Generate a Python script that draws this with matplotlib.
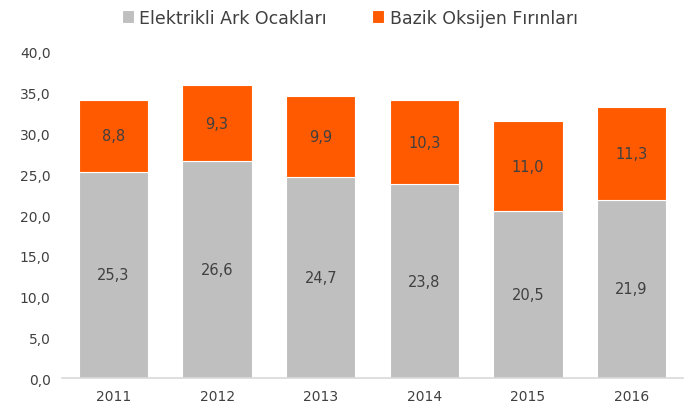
import matplotlib.pyplot as plt
import numpy as np

# ── Data ────────────────────────────────────────────────
years = ["2011", "2012", "2013", "2014", "2015", "2016"]
ark = [25.3, 26.6, 24.7, 23.8, 20.5, 21.9]
oksijen = [8.8, 9.3, 9.9, 10.3, 11.0, 11.3]
series_names = ["Elektrikli Ark Ocakları", "Bazik Oksijen Fırınları"]

GREY = "#BFBFBF"
ORANGE = "#FF5A00"
TEXT = "#404040"

def fmt(v):
    return f"{v:.1f}".replace(".", ",")

fig = plt.figure(figsize=(6.86, 4.14), dpi=100)
ax = fig.add_axes([0.090, 0.0845, 0.906, 0.7875])

x = np.arange(len(years))
b1 = ax.bar(x, ark, width=0.67, color=GREY, edgecolor="white", linewidth=0.8,
            label=series_names[0])
b2 = ax.bar(x, oksijen, width=0.67, bottom=ark, color=ORANGE, edgecolor="white",
            linewidth=0.8, label=series_names[1])

for i in range(len(years)):
    ax.text(x[i], ark[i] / 2, fmt(ark[i]), ha="center", va="center",
            fontsize=10.5, color=TEXT)
    ax.text(x[i], ark[i] + oksijen[i] / 2, fmt(oksijen[i]), ha="center",
            va="center", fontsize=10.5, color=TEXT)

ax.set_xlim(-0.5, len(years) - 0.5)
ax.set_ylim(0, 40)
ax.set_yticks(np.arange(0, 41, 5))
ax.set_yticklabels([fmt(v) for v in np.arange(0, 41, 5)])
ax.set_xticks(x)
ax.set_xticklabels(years)
ax.tick_params(axis="both", length=0, labelsize=10, colors=TEXT)
ax.tick_params(axis="y", pad=8)
ax.tick_params(axis="x", pad=8)

for s in ["top", "right", "left"]:
    ax.spines[s].set_visible(False)
ax.spines["bottom"].set_color("#D9D9D9")
ax.spines["bottom"].set_linewidth(1.2)

fig.legend(handles=[b1, b2], loc="center", bbox_to_anchor=(0.51, 0.955),
           ncol=2, frameon=False, fontsize=12.5, handlelength=0.7,
           handleheight=0.7, handletextpad=0.3, columnspacing=2.6,
           labelcolor=TEXT)

fig.savefig("out.png", dpi=100)
